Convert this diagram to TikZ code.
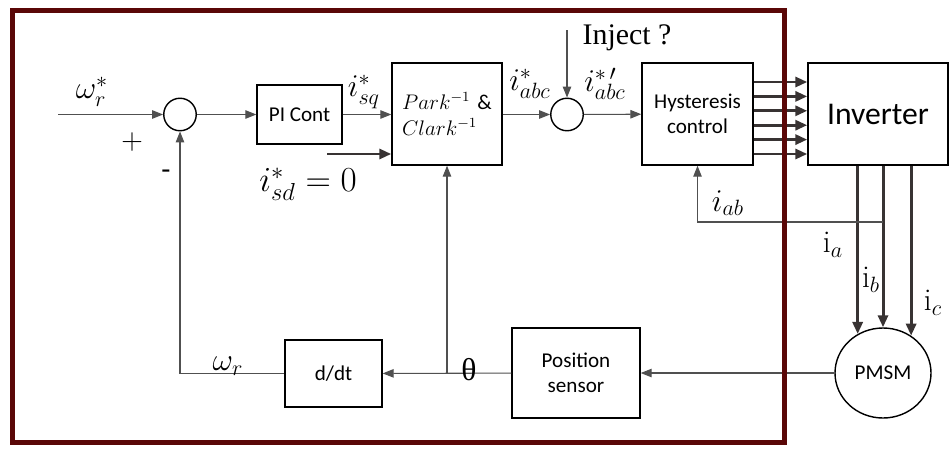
\RequirePackage{fix-cm}
\documentclass[tikz,border=0pt]{standalone}
\usepackage{fontspec}
\setsansfont{Carlito}
\newfontfamily\timesfont{Liberation Serif}
\usepackage{tikz}
\usetikzlibrary{shapes.geometric, arrows.meta, positioning, calc}
\definecolor{framered}{HTML}{5A0707}
\definecolor{darkline}{HTML}{383333}
\definecolor{thinline}{HTML}{505050}

\begin{document}
\begin{tikzpicture}[
        x=0.2mm, y=-0.2mm,
        block/.style={draw, thick, inner sep=0pt, align=center, font=\sffamily\fontsize{12}{14}\selectfont},
        sumpt/.style={draw, thick, circle, inner sep=0pt, minimum size=6.5mm},
        line/.style={thinline, line width=0.6pt},
        arr/.style={line, -{Triangle[length=2.2mm, width=1.7mm]}},
        bigarr/.style={darkline, line width=1.7pt, -{Triangle[length=2.4mm, width=2mm]}},
        lbl/.style={font=\fontsize{18}{20}\selectfont, inner sep=0pt}
    ]
        \useasboundingbox (0,0) rectangle (950,448);

        % blocks
        \node[sumpt] (sum1) at (180,114.5) {};
        \node[block, minimum width=17mm, minimum height=11.8mm] (pi) at (299.5,114.5) {PI Cont};
        \node[block, minimum width=22mm, minimum height=20.4mm, align=left,
              font=\fontsize{12}{15}\selectfont] (park) at (447,114)
              {$Park^{-1}$ {\sffamily\&}\\ $Clark^{-1}$};
        \node[sumpt] (sum2) at (567,114.5) {};
        \node[block, minimum width=22.2mm, minimum height=20.4mm] (hyst) at (697.5,114)
              {Hysteresis\\ control};
        \node[block, minimum width=28mm, minimum height=20.4mm,
              font=\sffamily\fontsize{18}{20}\selectfont] (inv) at (878,114) {Inverter};
        \node[block, ellipse, minimum width=19.2mm, minimum height=18mm] (pmsm) at (883,373) {PMSM};
        \node[block, minimum width=25.6mm, minimum height=18mm] (pos) at (576,373)
              {Position\\ sensor};
        \node[block, minimum width=19.4mm, minimum height=13.4mm] (ddt) at (333.5,373.5) {d/dt};

        % free ends
        \coordinate (win) at (58,114.5);
        \coordinate (isd) at (327,154);
        \coordinate (inj) at (567,30);
        \coordinate (tap) at (883,222);
        \coordinate (thj) at (park |- pos);

        % forward path
        \draw[arr] (win) -- (sum1);
        \draw[arr] (sum1) -- (pi);
        \draw[arr] (pi) -- (pi -| park.west);
        \draw[bigarr] (isd) -- (isd -| park.west);
        \draw[arr] (park.east |- sum2) -- (sum2);
        \draw[arr] (inj) -- (sum2);
        \draw[arr] (sum2) -- (hyst);
        \foreach \k in {0,...,5}
            \draw[bigarr] (hyst.east |- 0,82+14.4*\k) -- (inv.west |- 0,82+14.4*\k);
        \draw[bigarr] (inv.south -| pmsm.123) -- (pmsm.123);
        \draw[bigarr] (inv.south -| pmsm) -- (pmsm.north);
        \draw[bigarr] (inv.south -| pmsm.53) -- (pmsm.53);

        % feedback
        \draw[arr] (tap) -| (hyst.south);
        \draw[arr] (pmsm) -- (pos);
        \draw[arr] (pos) -- (ddt);
        \draw[arr] (thj) -- (park.south);
        \draw[arr] (ddt) -| (sum1);

        % labels
        \node[lbl] (lwref) at (92,92) {$\omega_r^*$};
        \node[lbl, font=\fontsize{17}{20}\selectfont] (lplus) at (132,142) {$+$};
        \node[lbl, font=\sffamily\fontsize{17}{20}\selectfont] (lminus) at (166,175) {-};
        \node[lbl] (lisq) at (364,92) {$i_{sq}^*$};
        \node[lbl, font=\fontsize{20}{22}\selectfont] (lisd) at (308,184) {$i_{sd}^* = 0$};
        \node[lbl] (liabc) at (530,84) {$i_{abc}^*$};
        \node[lbl] (liabcp) at (605,84) {$i_{abc}^{*\,\prime}$};
        \node[lbl, font=\timesfont\fontsize{17}{20}\selectfont] (linj) at (627,38) {Inject ?};
        \node[lbl] (liab) at (728,203) {$i_{ab}$};
        \node[lbl] (lia) at (833,245) {$\mathrm{i}_a$};
        \node[lbl] (lib) at (871,280) {$\mathrm{i}_b$};
        \node[lbl] (lic) at (933,303) {$\mathrm{i}_c$};
        \node[lbl] (lwr) at (228,366) {$\omega_r$};
        \node[lbl, font=\timesfont\fontsize{18}{20}\selectfont] (ltheta) at (469,370) {θ};

        % controller frame
        \draw[framered, line width=1mm] (12,10) rectangle (784,442);
    \end{tikzpicture}
\end{document}
